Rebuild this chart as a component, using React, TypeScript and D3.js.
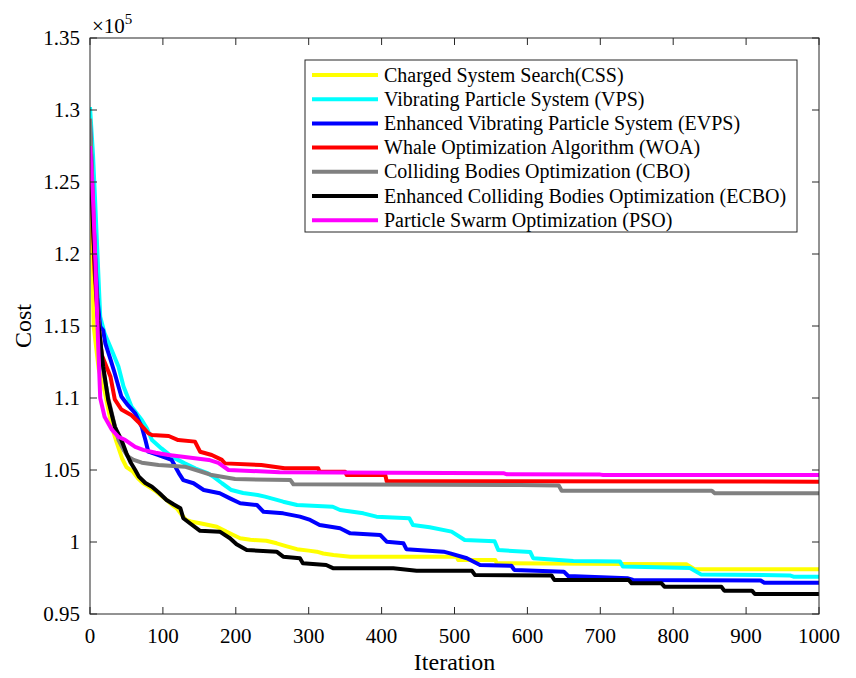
import React, { useRef, useEffect } from 'react';
import * as d3 from 'd3';

// best cost (x 1e5) vs iteration
const cssData: [number, number][] = [
  [0, 1.25], [3, 1.2], [5, 1.15], [12, 1.12], [20, 1.105], [30, 1.08], [36, 1.07], [44, 1.058], [50, 1.052],
  [59, 1.0488], [66, 1.044], [73, 1.0408], [82, 1.038], [91, 1.035], [98, 1.032], [105, 1.0292],
  [112, 1.026], [119, 1.0234], [126, 1.0188], [132, 1.0153], [140, 1.014], [151, 1.013], [174, 1.0106],
  [187, 1.0072], [196, 1.005], [206, 1.0026], [220, 1.0015], [242, 1.0009], [256, 0.9991], [270, 0.997],
  [284, 0.995], [300, 0.994], [311, 0.9933], [320, 0.992], [334, 0.991], [357, 0.9898], [503, 0.9898],
  [505, 0.9875], [556, 0.9875], [558, 0.9852], [730, 0.9848], [818, 0.9845], [830, 0.981], [1000, 0.981]
];
const vpsData: [number, number][] = [
  [0, 1.302], [4, 1.27], [7, 1.2375], [11, 1.191], [14, 1.1565], [20, 1.1449], [30, 1.133], [39, 1.1218],
  [46, 1.108], [57, 1.094], [71, 1.0847], [78, 1.079], [85, 1.0708], [98, 1.065], [112, 1.0593],
  [130, 1.0546], [145, 1.051], [162, 1.0477], [170, 1.045], [181, 1.0408], [194, 1.0361], [210, 1.034],
  [230, 1.0326], [240, 1.0315], [265, 1.028], [284, 1.0257], [333, 1.0245], [343, 1.0222], [375, 1.0199],
  [393, 1.0176], [438, 1.0165], [443, 1.0118], [466, 1.0102], [496, 1.0072], [514, 1.0014], [555, 1.0005],
  [560, 0.9944], [604, 0.993], [608, 0.9887], [663, 0.9868], [727, 0.9865], [731, 0.9829], [823, 0.982],
  [838, 0.9775], [960, 0.9768], [965, 0.9759], [1000, 0.9759]
];
const evpsData: [number, number][] = [
  [0, 1.29], [5, 1.22], [10, 1.17], [14, 1.1495], [18, 1.147], [21, 1.138], [28, 1.127], [34, 1.117],
  [43, 1.101], [52, 1.095], [62, 1.0894], [71, 1.08], [76, 1.0708], [80, 1.0627], [94, 1.0604],
  [112, 1.057], [122, 1.0477], [128, 1.043], [142, 1.0408], [156, 1.0361], [178, 1.0338], [192, 1.0303],
  [206, 1.0269], [229, 1.0257], [238, 1.021], [265, 1.0199], [288, 1.0176], [302, 1.0153], [315, 1.0118],
  [343, 1.0095], [357, 1.006], [398, 1.0049], [407, 1.0002], [430, 0.9991], [434, 0.995], [485, 0.9933],
  [494, 0.9921], [517, 0.9887], [535, 0.984], [578, 0.9835], [582, 0.9806], [650, 0.9794], [656, 0.9764],
  [738, 0.9748], [745, 0.9736], [920, 0.9733], [925, 0.9717], [1000, 0.9717]
];
const woaData: [number, number][] = [
  [0, 1.285], [3, 1.24], [6, 1.19], [10, 1.16], [16, 1.13], [28, 1.115], [34, 1.099], [43, 1.092],
  [57, 1.088], [66, 1.0835], [80, 1.0755], [85, 1.0743], [108, 1.0736], [121, 1.0708], [144, 1.0697],
  [151, 1.0627], [167, 1.0604], [181, 1.057], [185, 1.0546], [235, 1.0535], [267, 1.0512], [313, 1.0512],
  [315, 1.0488], [350, 1.0488], [352, 1.0465], [405, 1.0465], [407, 1.0422], [1000, 1.0419]
];
const cboData: [number, number][] = [
  [0, 1.294], [4, 1.24], [8, 1.18], [12, 1.15], [18, 1.12], [25, 1.1], [32, 1.085], [39, 1.071],
  [46, 1.064], [52, 1.0593], [60, 1.057], [71, 1.0551], [94, 1.0535], [130, 1.0523], [153, 1.0488],
  [167, 1.0465], [199, 1.0437], [275, 1.043], [279, 1.0401], [590, 1.0396], [643, 1.0392], [647, 1.0356],
  [853, 1.0356], [857, 1.0338], [1000, 1.0338]
];
const ecboData: [number, number][] = [
  [0, 1.27], [5, 1.21], [8, 1.18], [11, 1.154], [18, 1.122], [25, 1.0986], [34, 1.08], [43, 1.071], [50, 1.0616],
  [56, 1.055], [62, 1.05], [67, 1.0454], [76, 1.041], [85, 1.0384], [95, 1.034], [105, 1.0292],
  [115, 1.026], [124, 1.0234], [128, 1.0165], [137, 1.013], [151, 1.0078], [178, 1.0072], [192, 1.0026],
  [201, 0.9984], [215, 0.9944], [256, 0.9933], [265, 0.9898], [288, 0.9887], [292, 0.9852], [324, 0.984],
  [334, 0.9817], [416, 0.9817], [448, 0.9801], [524, 0.98], [528, 0.9771], [633, 0.9768], [637, 0.9736],
  [739, 0.9736], [743, 0.9713], [784, 0.9713], [788, 0.969], [866, 0.969], [870, 0.9662], [908, 0.9662],
  [912, 0.9639], [1000, 0.9639]
];
const psoData: [number, number][] = [
  [0, 1.275], [4, 1.24], [7, 1.2], [11, 1.14], [14, 1.1], [20, 1.087], [30, 1.078], [39, 1.073],
  [48, 1.071], [62, 1.066], [73, 1.064], [90, 1.062], [108, 1.0604], [163, 1.057], [176, 1.055],
  [190, 1.05], [260, 1.0485], [568, 1.0477], [572, 1.047], [700, 1.0468], [704, 1.0465], [1000, 1.0465]
];

const seriesNames = [
  'Charged System Search(CSS)',
  'Vibrating Particle System (VPS)',
  'Enhanced Vibrating Particle System (EVPS)',
  'Whale Optimization Algorithm (WOA)',
  'Colliding Bodies Optimization (CBO)',
  'Enhanced Colliding Bodies Optimization (ECBO)',
  'Particle Swarm Optimization (PSO)'
];
const seriesColors = ['#ffff00', '#00ffff', '#0000ff', '#ff0000', '#808080', '#000000', '#ff00ff'];
const seriesData = [cssData, vpsData, evpsData, woaData, cboData, ecboData, psoData];

const xTicks = [0, 100, 200, 300, 400, 500, 600, 700, 800, 900, 1000];
const yTicks = [0.95, 1, 1.05, 1.1, 1.15, 1.2, 1.25, 1.3, 1.35];

const FONT = '"Liberation Serif", "Times New Roman", serif';

const App = () => {
  const ref = useRef<SVGSVGElement>(null);

  useEffect(() => {
    const svg = d3.select(ref.current);
    svg.selectAll('*').remove();

    const left = 90, right = 819, top = 38, bottom = 614;
    const x = d3.scaleLinear().domain([0, 1000]).range([left, right]);
    const y = d3.scaleLinear().domain([0.95, 1.35]).range([bottom, top]);

    svg.append('rect')
      .attr('width', 856).attr('height', 678).attr('fill', '#fff');

    svg.append('clipPath').attr('id', 'plotclip')
      .append('rect')
      .attr('x', left).attr('y', top)
      .attr('width', right - left).attr('height', bottom - top);

    const line = d3.line<[number, number]>()
      .x(d => x(d[0]))
      .y(d => y(d[1]));

    const lines = svg.append('g').attr('clip-path', 'url(#plotclip)');
    seriesData.forEach((data, i) => {
      lines.append('path')
        .datum(data)
        .attr('fill', 'none')
        .attr('stroke', seriesColors[i])
        .attr('stroke-width', 4)
        .attr('stroke-linejoin', 'round')
        .attr('d', line);
    });

    // box and inward ticks on all sides
    const axisColor = '#262626';
    const tickLen = 7;
    svg.append('rect')
      .attr('x', left).attr('y', top)
      .attr('width', right - left).attr('height', bottom - top)
      .attr('fill', 'none').attr('stroke', axisColor).attr('stroke-width', 1);

    const ticks = svg.append('g').attr('stroke', axisColor).attr('stroke-width', 1);
    xTicks.forEach(t => {
      ticks.append('line').attr('x1', x(t)).attr('x2', x(t)).attr('y1', bottom).attr('y2', bottom - tickLen);
      ticks.append('line').attr('x1', x(t)).attr('x2', x(t)).attr('y1', top).attr('y2', top + tickLen);
    });
    yTicks.forEach(t => {
      ticks.append('line').attr('x1', left).attr('x2', left + tickLen).attr('y1', y(t)).attr('y2', y(t));
      ticks.append('line').attr('x1', right).attr('x2', right - tickLen).attr('y1', y(t)).attr('y2', y(t));
    });

    const labels = svg.append('g')
      .attr('font-family', FONT).attr('fill', '#000');

    labels.selectAll('.xl').data(xTicks).enter().append('text')
      .attr('x', d => x(d)).attr('y', 643)
      .attr('text-anchor', 'middle').attr('font-size', 21)
      .text(d => d3.format('d')(d));

    labels.selectAll('.yl').data(yTicks).enter().append('text')
      .attr('x', 80).attr('y', d => y(d) + 7)
      .attr('text-anchor', 'end').attr('font-size', 21)
      .text(d => String(+d.toFixed(2)));

    labels.append('text')
      .attr('x', (left + right) / 2).attr('y', 670)
      .attr('text-anchor', 'middle').attr('font-size', 24)
      .text('Iteration');

    labels.append('text')
      .attr('transform', `translate(31, ${(top + bottom) / 2}) rotate(-90)`)
      .attr('text-anchor', 'middle').attr('font-size', 24)
      .text('Cost');

    const exp = labels.append('text').attr('x', 92).attr('y', 33).attr('font-size', 21);
    exp.append('tspan').text('\u00d710');
    exp.append('tspan').attr('font-size', 15).attr('dy', -9).text('5');

    // legend
    const lg = svg.append('g');
    lg.append('rect')
      .attr('x', 305).attr('y', 60).attr('width', 492).attr('height', 172)
      .attr('fill', '#fff').attr('stroke', axisColor).attr('stroke-width', 1);
    seriesNames.forEach((name, i) => {
      const ry = 75 + i * 24.2;
      lg.append('line')
        .attr('x1', 312).attr('x2', 378).attr('y1', ry).attr('y2', ry)
        .attr('stroke', seriesColors[i]).attr('stroke-width', 4);
      lg.append('text')
        .attr('x', 384).attr('y', ry + 6.5)
        .attr('font-family', FONT).attr('font-size', 20)
        .text(name);
    });
  }, []);

  return (
    <svg ref={ref} width={856} height={678}
      style={{ position: 'absolute', left: 0, top: 0, display: 'block' }} />
  );
};

export default App;
